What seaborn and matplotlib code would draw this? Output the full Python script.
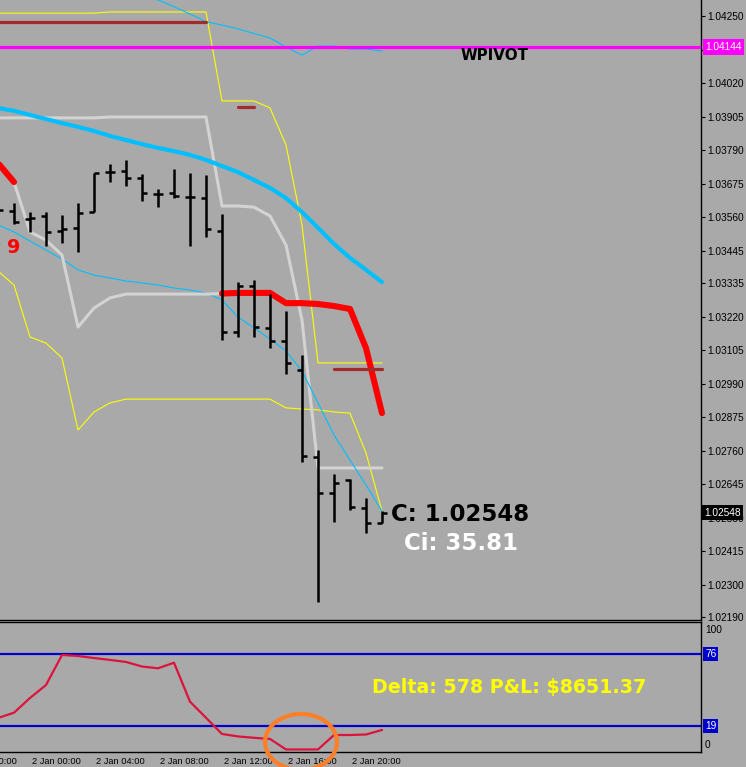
import matplotlib
matplotlib.use("Agg")
import matplotlib.pyplot as plt
from matplotlib.patches import Ellipse
import pandas as pd
import seaborn as sns

# ---------------- data ----------------
# H1 bars, hour offsets relative to 2 Jan 00:00
hours = list(range(-2, 23))
bar_open = [1.03592, 1.03582, 1.03554, 1.03565, 1.03513, 1.03524, 1.03578, 1.03715, 1.03719,
            1.03695, 1.03640, 1.03643, 1.03630, 1.03626, 1.03513, 1.03167, 1.03325, 1.03181,
            1.03136, 1.03037, 1.02739, 1.02615, 1.02660, 1.02564, 1.02512]
bar_high = [1.03619, 1.03609, 1.03578, 1.03578, 1.03568, 1.03609, 1.03712, 1.03743, 1.03757,
            1.03709, 1.03657, 1.03726, 1.03712, 1.03705, 1.03571, 1.03338, 1.03345, 1.03297,
            1.03239, 1.03088, 1.02763, 1.02680, 1.02663, 1.02598, 1.02553]
bar_low = [1.03544, 1.03537, 1.03510, 1.03462, 1.03472, 1.03441, 1.03578, 1.03681, 1.03667,
           1.03616, 1.03595, 1.03626, 1.03462, 1.03493, 1.03140, 1.03150, 1.03150, 1.03112,
           1.03023, 1.02721, 1.02242, 1.02516, 1.02557, 1.02478, 1.02512]
bar_close = [1.03585, 1.03544, 1.03558, 1.03510, 1.03520, 1.03575, 1.03712, 1.03715, 1.03695,
             1.03643, 1.03640, 1.03633, 1.03630, 1.03520, 1.03167, 1.03325, 1.03184, 1.03136,
             1.03061, 1.02742, 1.02615, 1.02650, 1.02567, 1.02512, 1.02548]

band_outer_upper = [1.04260, 1.04260, 1.04260, 1.04260, 1.04260, 1.04260, 1.04260, 1.04264, 1.04264,
                    1.04264, 1.04264, 1.04264, 1.04264, 1.04264, 1.03959, 1.03959, 1.03959, 1.03935,
                    1.03808, 1.03534, 1.03061, 1.03061, 1.03061, 1.03061, 1.03061]
band_outer_lower = [1.03376, 1.03328, 1.03150, 1.03129, 1.03078, 1.02831, 1.02893, 1.02924, 1.02937,
                    1.02937, 1.02937, 1.02937, 1.02937, 1.02937, 1.02937, 1.02937, 1.02937, 1.02937,
                    1.02907, 1.02903, 1.02900, 1.02893, 1.02889, 1.02752, 1.02553]
band_inner_upper = [1.03901, 1.03901, 1.03901, 1.03901, 1.03901, 1.03901, 1.03901, 1.03904, 1.03904,
                    1.03904, 1.03904, 1.03904, 1.03904, 1.03904, 1.03599, 1.03599, 1.03595, 1.03565,
                    1.03465, 1.03208, 1.02701, 1.02701, 1.02701, 1.02701, 1.02701]
mid_line = [1.03746, 1.03681, 1.03510, 1.03482, 1.03431, 1.03184, 1.03249, 1.03284, 1.03297,
            1.03297, 1.03297, 1.03297, 1.03297, 1.03297, 1.03299, 1.03301, 1.03301, 1.03301,
            1.03266, 1.03266, 1.03263, 1.03256, 1.03246, 1.03112, 1.02889]
mid_trend = ["down", "down", "flat", "flat", "flat", "flat", "flat", "flat", "flat", "flat", "flat",
             "flat", "flat", "flat", "down", "down", "down", "down", "down", "down", "down", "down",
             "down", "down", "down"]
ma_slow = [1.03935, 1.03925, 1.03911, 1.03897, 1.03883, 1.03870, 1.03856, 1.03839, 1.03825,
           1.03811, 1.03798, 1.03787, 1.03774, 1.03757, 1.03736, 1.03715, 1.03688, 1.03661,
           1.03626, 1.03578, 1.03524, 1.03469, 1.03421, 1.03380, 1.03338]
ma_thin_lower = [1.03534, 1.03510, 1.03479, 1.03448, 1.03417, 1.03380, 1.03362, 1.03352, 1.03342,
                 1.03335, 1.03328, 1.03318, 1.03311, 1.03301, 1.03277, 1.03218, 1.03181, 1.03143,
                 1.03102, 1.03033, 1.02924, 1.02814, 1.02728, 1.02643, 1.02553]
upper_hours = list(range(6, 23))
ma_thin_upper = [1.04350, 1.04326, 1.04305, 1.04282, 1.04257, 1.04231, 1.04219, 1.04206, 1.04190,
                 1.04175, 1.04144, 1.04116, 1.04147, 1.04147, 1.04137, 1.04137, 1.04130]

pivot_levels = [1.04230, 1.03938, 1.03040]
pivot_start = [-2, 13, 19]
pivot_end = [11, 14, 22]
wpivot = 1.04144
last_close = 1.02548

osc_values = [25.3, 29.5, 41.1, 51.3, 75.0, 74.2, 72.6, 71.1, 69.5, 65.9, 64.5, 68.9, 38.2,
              25.5, 12.7, 10.8, 9.7, 8.8, 0.5, 0.5, 0.5, 11.9, 11.9, 12.3, 15.9]
osc_levels = [76, 19]

price_ticks = [1.04250, 1.04135, 1.04020, 1.03905, 1.03790, 1.03675, 1.03560, 1.03445, 1.03335,
               1.03220, 1.03105, 1.02990, 1.02875, 1.02760, 1.02645, 1.02530, 1.02415, 1.02300,
               1.02190]
time_ticks = [-4, 0, 4, 8, 12, 16, 20]
time_labels = ["1 Jan 20:00", "2 Jan 00:00", "2 Jan 04:00", "2 Jan 08:00", "2 Jan 12:00",
               "2 Jan 16:00", "2 Jan 20:00"]

# ---------------- style ----------------
BG = "#A9A9A9"
sns.set_style("white")
plt.rcParams["font.family"] = ["Liberation Sans", "DejaVu Sans"]
AXFONT = 7.3
XFONT = 6.7
XLIM = (-1.875, 41.9375)

W, H = 746, 767
fig = plt.figure(figsize=(W / 100, H / 100), dpi=100, facecolor=BG)


def add_px_axes(x0, y0, x1, y1):
    return fig.add_axes([x0 / W, 1 - y1 / H, (x1 - x0) / W, (y1 - y0) / H])


ax = add_px_axes(0, 0, 701, 620)
ax2 = add_px_axes(0, 622, 701, 752)
for a in (ax, ax2):
    a.set_facecolor(BG)
    a.spines["left"].set_visible(False)
    for s in ("right", "bottom", "top"):
        a.spines[s].set_color("black")
        a.spines[s].set_linewidth(1.0)
ax.spines["top"].set_visible(False)


def sline(a, x, y, color, lw, z, **kw):
    sns.lineplot(x=x, y=y, ax=a, color=color, linewidth=lw, zorder=z,
                 estimator=None, sort=False, legend=False, **kw)


# bands
sline(ax, hours, band_outer_upper, "#FFFF00", 0.8, 2)
sline(ax, hours, band_outer_lower, "#FFFF00", 0.8, 2)
sline(ax, hours, band_inner_upper, "#D3D3D3", 2.2, 3)
sline(ax, hours, ma_thin_lower, "#00BFFF", 0.8, 3)
sline(ax, upper_hours, ma_thin_upper, "#00BFFF", 0.8, 3)
sline(ax, hours, ma_slow, "#00BFFF", 3.0, 4)

# mid line in coloured runs
runs = []
for i in range(len(hours) - 1):
    col = "down" if (mid_trend[i] == "down" and mid_trend[i + 1] == "down") else "flat"
    if runs and runs[-1][0] == col:
        runs[-1][1].append(i + 1)
    else:
        runs.append([col, [i, i + 1]])
for col, idx in runs:
    xs = [hours[k] for k in idx]
    ys = [mid_line[k] for k in idx]
    if col == "down":
        sline(ax, xs, ys, "#FF0000", 4.4, 5, solid_capstyle="round", solid_joinstyle="round")
    else:
        sline(ax, xs, ys, "#D3D3D3", 2.2, 3)

# pivot levels
for lv, s, e in zip(pivot_levels, pivot_start, pivot_end):
    sline(ax, [s, e], [lv, lv], "#A52A2A", 2.3, 5)
ax.axhline(wpivot, color="#FF00FF", lw=2.3, zorder=7)

# OHLC bars
tick_len = 0.3
ax.vlines(hours, bar_low, bar_high, color="black", lw=1.8, zorder=6)
ax.hlines(bar_open, [h - tick_len for h in hours], hours, color="black", lw=1.8, zorder=6)
ax.hlines(bar_close, hours, [h + tick_len for h in hours], color="black", lw=1.8, zorder=6)

# price axis
ax.yaxis.tick_right()
ax.set_yticks(price_ticks)
ax.set_yticklabels([f"{p:.5f}" for p in price_ticks])
ax.tick_params(axis="y", direction="out", length=3, width=0.8, pad=1.5,
               labelsize=AXFONT, colors="black")
ax.set_xticks([])
ax.set_xlabel("")
ax.set_ylabel("")
ax.set_xlim(*XLIM)
ax.set_ylim(1.021799, 1.04305)

ytr = ax.get_yaxis_transform()
ax.text(1.0058, wpivot, f"{wpivot:.5f}", transform=ytr, ha="left", va="center",
        fontsize=AXFONT, color="white", zorder=10, clip_on=False,
        bbox=dict(boxstyle="square,pad=0.25", fc="#FF00FF", ec="none"))
ax.text(1.0045, last_close, f"{last_close:.5f}", transform=ytr, ha="left", va="center",
        fontsize=AXFONT, color="white", zorder=10, clip_on=False,
        bbox=dict(boxstyle="square,pad=0.25", fc="black", ec="none"))

# oscillator panel
sline(ax2, hours, osc_values, "#DC143C", 1.6, 4)
for lv in osc_levels:
    ax2.axhline(lv, color="#0000CD", lw=1.6, zorder=3)
ax2.set_yticks([])
ax2.set_ylabel("")
ax2.set_xlabel("")
ytr2 = ax2.get_yaxis_transform()
ax2.text(1.0058, 95, "100", transform=ytr2, ha="left", va="center", fontsize=AXFONT,
         color="black", clip_on=False)
ax2.text(1.0058, 4, "0", transform=ytr2, ha="left", va="center", fontsize=AXFONT,
         color="black", clip_on=False)
for lv in osc_levels:
    ax2.text(1.0058, lv, str(lv), transform=ytr2, ha="left", va="center", fontsize=AXFONT,
             color="white", clip_on=False, zorder=10,
             bbox=dict(boxstyle="square,pad=0.2", fc="#0000CD", ec="none"))

# time axis: tick marks via the axis, labels left-aligned after each tick
ax2.set_xticks(time_ticks)
ax2.set_xticklabels([""] * len(time_ticks))
ax2.tick_params(axis="x", direction="out", length=3, width=0.8, colors="black")
ax2.set_xlim(*XLIM)
ax2.set_ylim(-1.5, 101)
xtr2 = ax2.get_xaxis_transform()
for t, lab in zip(time_ticks, time_labels):
    ax2.annotate(lab, xy=(t, 0), xycoords=xtr2, xytext=(1.5, -3.5),
                 textcoords="offset points", ha="left", va="top", fontsize=XFONT,
                 color="black", annotation_clip=False)


# ---------------- annotations (pixel positions) ----------------
def ftext(x, y, s, **kw):
    fig.text(x / W, 1 - y / H, s, va="baseline", ha="left", **kw)


ftext(461, 60, "WPIVOT", family="DejaVu Sans", weight="bold", fontsize=10.9, color="black")
ftext(391, 521, f"C: {last_close:.5f}", family="DejaVu Sans", weight="bold", fontsize=16.5,
      color="black")
ftext(404, 550, "Ci: 35.81", family="DejaVu Sans", weight="bold", fontsize=16.5, color="white")
ftext(372, 693, "Delta: 578 P&L: \\$8651.37", family="DejaVu Sans", weight="bold",
      fontsize=13.7, color="#FFFF00")

ax.text(-1.0, 1.03458, "9", ha="center", va="center", family="DejaVu Sans", weight="bold",
        fontsize=13.8, color="#FF0000", zorder=8)
ax.text(-2.2, 1.03475, "8", ha="center", va="center", family="DejaVu Sans", weight="bold",
        fontsize=13.8, color="#101040", zorder=8, clip_on=True)

fig.add_artist(Ellipse((301 / W, 1 - 742 / H), 72 / W, 56 / H, transform=fig.transFigure,
                       fill=False, ec="#FF7F27", lw=3.0, zorder=20))

fig.savefig("out.png", dpi=100, facecolor=BG)
